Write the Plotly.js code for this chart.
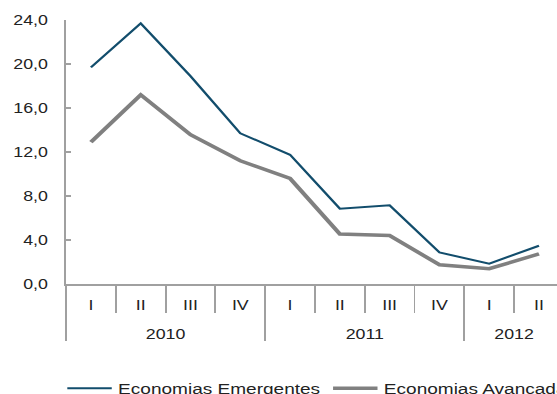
<!DOCTYPE html>
<html>
<head>
<meta charset="utf-8">
<script src="https://cdn.plot.ly/plotly-3.0.1.min.js"></script>
<style>
html, body { margin: 0; padding: 0; overflow: hidden; width: 557px; height: 394px; background: #fff; }
#chart { transform: scaleX(1.27); transform-origin: 0 0; }
</style>
</head>
<body>
<div id="chart"></div>
<script>
const years = ['2010','2010','2010','2010','2011','2011','2011','2011','2012','2012'];
const quarters = ['I','II','III','IV','I','II','III','IV','I','II'];
const emergentes = [19.7, 23.7, 18.9, 13.7, 11.75, 6.85, 7.15, 2.87, 1.85, 3.48];
const avancadas = [12.9, 17.2, 13.57, 11.2, 9.6, 4.55, 4.4, 1.75, 1.39, 2.73];
const yTicks = [0, 4, 8, 12, 16, 20, 24];

// positions derived from the category arrays
const idx = quarters.map((_, i) => i);
const quarterBounds = idx.map(i => i - 0.5).concat([idx.length - 0.5]);
const yearNames = [...new Set(years)];
const yearCenters = yearNames.map(y => {
  const ii = idx.filter(i => years[i] === y);
  return (ii[0] + ii[ii.length - 1]) / 2;
});
const yearBounds = yearNames.map(y => idx.find(i => years[i] === y) - 0.5).concat([idx.length - 0.5]);

const font = {family: 'Liberation Sans, Arial, sans-serif', size: 14, color: '#222'};
const legendFont = {family: 'Liberation Sans, Arial, sans-serif', size: 15, color: '#222'};
const axisGray = '#a0a0a0';

const traces = [
  {x: idx, y: emergentes, type: 'scatter', mode: 'lines', name: 'Economias Emergentes',
   line: {color: '#124d6c', width: 2}},
  {x: idx, y: avancadas, type: 'scatter', mode: 'lines', name: 'Economias Avançadas',
   line: {color: '#808080', width: 3.5}},
  {x: yearCenters, y: yearCenters.map(() => null), xaxis: 'x2', type: 'scatter', mode: 'lines',
   showlegend: false, hoverinfo: 'skip'}
];

const H = 470;
const layout = {
  width: 700, height: H,
  margin: {l: 52, r: 256, t: 20, b: H - 284.3},
  paper_bgcolor: '#fff', plot_bgcolor: '#fff',
  separators: ',.',
  font: font,
  showlegend: true,
  legend: {orientation: 'h', xref: 'paper', x: -0.0102, xanchor: 'left', itemwidth: 35,
           yref: 'paper', y: (284.3-389)/264.3, yanchor: 'middle', font: legendFont},
  xaxis: {range: [-0.5, quarters.length - 0.5], tickmode: 'array', tickvals: idx, ticktext: quarters,
          ticks: '', showline: true, linecolor: axisGray, linewidth: 1.5,
          minor: {tickmode: 'array', tickvals: quarterBounds, ticks: 'outside', ticklen: 27,
                  tickcolor: axisGray, tickwidth: 1.5, showgrid: false},
          ticklabelstandoff: 8, showgrid: false, zeroline: false, tickfont: font},
  xaxis2: {overlaying: 'x', matches: 'x', anchor: 'y', side: 'bottom',
           tickmode: 'array', tickvals: yearCenters, ticktext: yearNames,
           ticks: '', showline: false,
           minor: {tickmode: 'array', tickvals: yearBounds, ticks: 'outside', ticklen: 56,
                   tickcolor: axisGray, tickwidth: 1.5, showgrid: false},
           ticklabelstandoff: 40, showgrid: false, zeroline: false, tickfont: font},
  yaxis: {range: [0, 24], tickvals: yTicks, tickformat: '.1f', showline: true, linecolor: axisGray, linewidth: 1.5,
          ticks: 'inside', ticklen: 4, tickcolor: axisGray, tickwidth: 1.5,
          showgrid: false, zeroline: false, tickfont: font, ticklabelstandoff: 10}
};

Plotly.newPlot('chart', traces, layout, {displayModeBar: false, staticPlot: true});
</script>
</body>
</html>
